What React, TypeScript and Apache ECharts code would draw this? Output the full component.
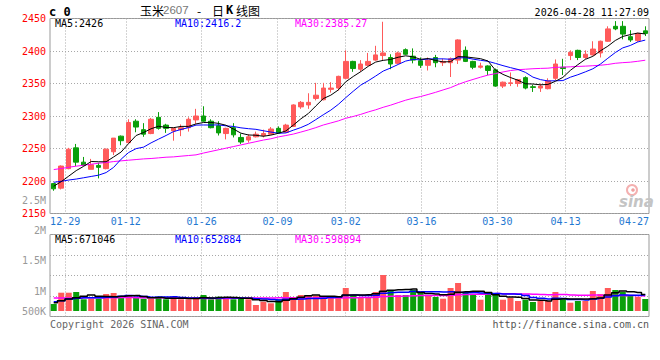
import React, { useEffect, useRef } from 'react';
import * as echarts from 'echarts';

// ---- data ----
const dates = [
  '12-25', '12-26', '12-29', '12-30', '12-31', '01-05', '01-06', '01-07', '01-08', '01-09',
  '01-12', '01-13', '01-14', '01-15', '01-16', '01-19', '01-20', '01-21', '01-22', '01-23',
  '01-26', '01-27', '01-28', '01-29', '01-30', '02-02', '02-03', '02-04', '02-05', '02-06',
  '02-09', '02-10', '02-11', '02-12', '02-13', '02-24', '02-25', '02-26', '02-27', '03-02',
  '03-03', '03-04', '03-05', '03-06', '03-09', '03-10', '03-11', '03-12', '03-13', '03-16',
  '03-17', '03-18', '03-19', '03-20', '03-23', '03-24', '03-25', '03-26', '03-27', '03-30',
  '03-31', '04-01', '04-02', '04-03', '04-07', '04-08', '04-09', '04-10', '04-13', '04-14',
  '04-15', '04-16', '04-17', '04-20', '04-21', '04-22', '04-23', '04-24', '04-27', '04-28',
];

const opens = [
  2196, 2189, 2219, 2251, 2229, 2218, 2224, 2219, 2245, 2269,
  2259, 2292, 2279, 2273, 2298, 2286, 2277, 2279, 2282, 2294,
  2300, 2292, 2285, 2273, 2282, 2267, 2263, 2268, 2270, 2272,
  2281, 2275, 2284, 2314, 2317, 2327, 2325, 2341, 2343, 2358,
  2384, 2372, 2378, 2386, 2393, 2390, 2381, 2402, 2392, 2385,
  2378, 2390, 2382, 2382, 2386, 2401, 2384, 2375, 2377, 2371,
  2346, 2350, 2350, 2359, 2345, 2343, 2342, 2358, 2375, 2393,
  2401, 2390, 2394, 2397, 2415, 2438, 2438, 2422, 2416, 2431,
];
const closes = [
  2188, 2223, 2249, 2229, 2224, 2225, 2221, 2249, 2266, 2262,
  2290, 2283, 2272, 2295, 2281, 2281, 2281, 2282, 2295, 2300,
  2292, 2282, 2274, 2281, 2271, 2260, 2268, 2272, 2273, 2280,
  2274, 2286, 2317, 2321, 2321, 2332, 2343, 2343, 2361, 2384,
  2373, 2380, 2384, 2394, 2397, 2380, 2397, 2395, 2386, 2378,
  2386, 2382, 2384, 2388, 2417, 2384, 2375, 2377, 2370, 2346,
  2352, 2351, 2356, 2343, 2344, 2346, 2354, 2380, 2373, 2398,
  2390, 2395, 2403, 2415, 2434, 2434, 2426, 2417, 2427, 2427,
];
const lows = [
  2185, 2187, 2218, 2223, 2223, 2218, 2204, 2218, 2240, 2255,
  2258, 2275, 2268, 2272, 2279, 2274, 2262, 2269, 2276, 2288,
  2291, 2281, 2270, 2264, 2267, 2257, 2259, 2267, 2267, 2272,
  2273, 2274, 2283, 2311, 2311, 2324, 2324, 2336, 2339, 2357,
  2368, 2368, 2377, 2385, 2386, 2372, 2380, 2394, 2381, 2374,
  2370, 2375, 2377, 2360, 2380, 2383, 2372, 2373, 2363, 2345,
  2343, 2346, 2345, 2341, 2337, 2337, 2341, 2355, 2363, 2386,
  2386, 2388, 2393, 2390, 2414, 2432, 2418, 2414, 2414, 2423,
];
const highs = [
  2197, 2224, 2251, 2257, 2237, 2234, 2228, 2250, 2266, 2270,
  2295, 2295, 2289, 2297, 2306, 2288, 2282, 2287, 2298, 2311,
  2315, 2295, 2292, 2282, 2289, 2273, 2272, 2276, 2279, 2283,
  2284, 2288, 2318, 2323, 2335, 2351, 2351, 2352, 2362, 2401,
  2385, 2386, 2397, 2408, 2445, 2395, 2399, 2404, 2404, 2390,
  2390, 2394, 2388, 2390, 2418, 2407, 2385, 2382, 2378, 2373,
  2353, 2367, 2357, 2361, 2348, 2350, 2358, 2387, 2388, 2401,
  2402, 2401, 2415, 2416, 2438, 2446, 2446, 2432, 2428, 2438,
];
const volumes = [
  280000, 732000, 732000, 760000, 468000, 492000, 492000, 680000, 720000, 548000,
  600000, 532000, 492000, 492000, 572000, 468000, 548000, 468000, 468000, 532000,
  640000, 468000, 572000, 532000, 468000, 532000, 468000, 240000, 372000, 308000,
  468000, 760000, 560000, 640000, 612000, 612000, 548000, 548000, 548000, 920000,
  640000, 560000, 560000, 760000, 1440000, 840000, 640000, 640000, 840000, 732000,
  640000, 560000, 492000, 920000, 1120000, 760000, 680000, 452000, 680000, 680000,
  452000, 532000, 400000, 452000, 360000, 400000, 400000, 760000, 520000, 332000,
  400000, 400000, 800000, 680000, 920000, 840000, 760000, 640000, 560000, 480000,
];

// moving-average values before enough candles are on screen
const ma5Lead = [2192, 2199, 2207.5, 2216];
const ma10Lead = [2198, 2199.5, 2201.5, 2203, 2205, 2207, 2209, 2213, 2221];
const ma30Lead = [
  2217.6, 2219.2, 2221.2, 2222.8, 2224.3, 2225.8, 2227.4, 2228.4, 2229.9, 2231,
  2232, 2233, 2234, 2234.6, 2235.6, 2236.6, 2237.1, 2238.2, 2239.2, 2240.2,
  2243, 2245.5, 2248, 2250.5, 2253, 2255.5, 2258, 2260.5, 2263,
];
const volMa5Lead = [332000, 412000, 480000, 532000];
const volMa10Lead = [372000, 412000, 480000, 508000, 532000, 532000, 532000, 548000, 560000];
const volMa30Lead = [
  520000, 520000, 524000, 524000, 528000, 528000, 532000, 532000, 532000, 536000,
  536000, 532000, 532000, 528000, 528000, 524000, 520000, 516000, 512000, 508000,
  504000, 500000, 500000, 504000, 508000, 512000, 516000, 520000, 520000,
];

const gridDates = ['12-29', '01-12', '01-26', '02-09', '03-02', '03-16', '03-30', '04-13'];
const labelDates = [...gridDates, '04-27'];
const volTickValues = [500000, 1000000, 1500000, 2000000, 2500000];
const volTickTexts = ['500K', '1M', '1.5M', '2M', '2.5M'];

const priceHeader = ['MA5:2426', 'MA10:2416.2', 'MA30:2385.27'];
const volHeader = ['MA5:671046', 'MA10:652884', 'MA30:598894'];
const titleParts = ['玉米', '2607', '-', '日', 'K', '线图'];
const stamp = '2026-04-28 11:27:09';
const codeText = 'c 0';
const copyrightText = 'Copyright 2026 SINA.COM';
const urlText = 'http://finance.sina.com.cn';

// ---- styles ----
const RED = '#ff5a5a';
const GREEN = '#0a9f0a';
const MONO = '"DejaVu Sans Mono", "Liberation Mono", monospace';
const CJK = '"Noto Sans CJK SC", "Noto Sans", sans-serif';
const DOT = { type: [1, 2], color: '#a8a8a8', width: 1 };
const MA_COLORS = ['#000000', '#0000ff', '#ff00ff'];

function movingAverage(values: number[], n: number, lead: number[], digits: number) {
  return values.map((_, i) => {
    if (i < n - 1) return lead[i];
    let s = 0;
    for (let k = i - n + 1; k <= i; k++) s += values[k];
    return Number((s / n).toFixed(digits));
  });
}

export default function App() {
  const ref = useRef<HTMLDivElement>(null);

  useEffect(() => {
    if (!ref.current) return;
    const chart = echarts.init(ref.current, null, { renderer: 'svg' });

    const candles = dates.map((_, i) => [opens[i], closes[i], lows[i], highs[i]]);
    const volBars = volumes.map((v, i) => ({
      value: v,
      itemStyle: { color: closes[i] >= opens[i] ? RED : GREEN },
    }));
    const ma5 = movingAverage(closes, 5, ma5Lead, 2);
    const ma10 = movingAverage(closes, 10, ma10Lead, 2);
    const ma30 = movingAverage(closes, 30, ma30Lead, 2);
    const vma5 = movingAverage(volumes, 5, volMa5Lead, 0);
    const vma10 = movingAverage(volumes, 10, volMa10Lead, 0);
    const vma30 = movingAverage(volumes, 30, volMa30Lead, 0);

    const maLine = (data: number[], color: string, xi: number, yi: number, width: number, step?: any) => ({
      type: 'line',
      data,
      xAxisIndex: xi,
      yAxisIndex: yi,
      symbol: 'none',
      showSymbol: false,
      step: step || false,
      silent: true,
      z: 5,
      lineStyle: { color, width },
    });

    const headerTexts = (texts: string[], y: number) =>
      texts.map((t, i) => ({
        type: 'text',
        x: [55, 175, 295][i],
        y,
        z: 20,
        style: { text: t, fill: MA_COLORS[i], font: `10px ${MONO}`, verticalAlign: 'middle' },
      }));

    const titleX = [140, 163, 197, 212, 226, 236];
    const titleGraphics = titleParts.map((t, i) => ({
      type: 'text',
      x: titleX[i],
      y: 10,
      style: {
        text: t,
        fill: i === 1 ? '#777' : '#000',
        font: i === 4 ? `bold 12px ${MONO}` : i === 1 ? `11.5px "Liberation Sans", sans-serif` : `12px ${CJK}`,
        verticalAlign: 'middle',
      },
    }));

    const option: any = {
      animation: false,
      backgroundColor: '#ffffff',
      grid: [
        { left: 50, top: 18.5, width: 599, height: 195, show: true, borderColor: '#999', borderWidth: 1, backgroundColor: 'transparent' },
        { left: 50, top: 234.5, width: 599, height: 76.5, show: false },
        { left: 50, top: 234.5, width: 599, height: 82, show: true, borderColor: '#999', borderWidth: 1, backgroundColor: 'transparent' },
        { left: 50, top: 169.8, width: 599, height: 181.8, show: false },
      ],
      xAxis: [
        { type: 'category', gridIndex: 0, data: dates, boundaryGap: true, show: false, position: 'bottom' },
        {
          type: 'category', gridIndex: 0, data: dates, boundaryGap: false, position: 'bottom',
          axisLine: { show: false }, axisTick: { show: false },
          axisLabel: {
            interval: (_i: number, v: string) => labelDates.includes(v),
            color: '#1f78d1', fontFamily: MONO, fontSize: 10, margin: 3,
            formatter: (v: string) => (v === labelDates[labelDates.length - 1] ? `{r|${v}}` : v),
            rich: { r: { color: '#1f78d1', fontFamily: MONO, fontSize: 10, padding: [0, 15, 0, 0] } },
          },
          splitLine: { show: true, interval: (_i: number, v: string) => gridDates.includes(v), lineStyle: DOT },
        },
        { type: 'category', gridIndex: 1, data: dates, boundaryGap: true, show: false },
        {
          type: 'category', gridIndex: 2, data: dates, boundaryGap: false,
          axisLine: { show: false }, axisTick: { show: false }, axisLabel: { show: false },
          splitLine: { show: true, interval: (_i: number, v: string) => gridDates.includes(v), lineStyle: DOT },
        },
        { type: 'category', gridIndex: 3, data: dates, show: false },
      ],
      yAxis: [
        {
          type: 'value', gridIndex: 0, min: 2150, max: 2450, interval: 50,
          axisLine: { show: false }, axisTick: { show: false },
          axisLabel: { color: '#ff0000', fontFamily: MONO, fontSize: 10, margin: 4, formatter: (v: number) => String(v) },
          splitLine: { show: true, lineStyle: DOT },
        },
        { type: 'value', gridIndex: 1, min: 0, max: 3060000, show: false, splitLine: { show: false } },
        {
          type: 'value', gridIndex: 2, min: 0, max: 4, interval: 1,
          axisLine: { show: false }, axisTick: { show: false }, axisLabel: { show: false },
          splitLine: { show: true, lineStyle: DOT },
        },
        {
          type: 'value', gridIndex: 3, min: 0, max: 3000000, interval: 500000,
          axisLine: { show: false }, axisTick: { show: false }, splitLine: { show: false },
          axisLabel: {
            color: '#999', fontFamily: MONO, fontSize: 10, margin: 4,
            formatter: (v: number) => {
              const k = volTickValues.indexOf(v);
              if (k < 0) return '';
              return k === 0 ? `{a|${volTickTexts[k]}}` : volTickTexts[k];
            },
            rich: { a: { color: '#999', fontFamily: MONO, fontSize: 10, padding: [0, 0, 20, 0] } },
          },
        },
      ],
      series: [
        {
          type: 'candlestick',
          xAxisIndex: 0,
          yAxisIndex: 0,
          data: candles,
          barWidth: 5,
          silent: true,
          itemStyle: { color: RED, color0: GREEN, borderColor: RED, borderColor0: GREEN, borderWidth: 1 },
        },
        maLine(ma30, MA_COLORS[2], 0, 0, 1),
        maLine(ma10, MA_COLORS[1], 0, 0, 1),
        maLine(ma5, MA_COLORS[0], 0, 0, 1),
        {
          type: 'bar',
          xAxisIndex: 2,
          yAxisIndex: 1,
          data: volBars,
          barWidth: 6,
          silent: true,
        },
        maLine(vma30, MA_COLORS[2], 2, 1, 1.5, 'middle'),
        maLine(vma10, MA_COLORS[1], 2, 1, 1.5, 'middle'),
        maLine(vma5, MA_COLORS[0], 2, 1, 1.5, 'middle'),
      ],
      graphic: [
        { type: 'text', x: 49, y: 12, style: { text: codeText, fill: '#000', font: `bold 12px ${MONO}`, verticalAlign: 'middle' } },
        ...titleGraphics,
        { type: 'text', x: 649, y: 12, style: { text: stamp, fill: '#000', font: `10px ${MONO}`, align: 'right', verticalAlign: 'middle' } },
        ...headerTexts(priceHeader, 23.5),
        ...headerTexts(volHeader, 239),
        { type: 'text', x: 50, y: 324, style: { text: copyrightText, fill: '#666', font: `10px ${MONO}`, verticalAlign: 'middle' } },
        { type: 'text', x: 649, y: 324, style: { text: urlText, fill: '#555', font: `10px ${MONO}`, align: 'right', verticalAlign: 'middle' } },
        { type: 'circle', shape: { cx: 632, cy: 190, r: 5 }, style: { fill: 'none', stroke: '#f4b0b0', lineWidth: 2 }, z: 1 },
        { type: 'circle', shape: { cx: 633, cy: 190, r: 1.8 }, style: { fill: '#f0a0a0' }, z: 1 },
        { type: 'text', x: 619, y: 202, z: 1, style: { text: 'sina', fill: '#c4c4c4', font: `italic bold 15px "DejaVu Sans", sans-serif`, verticalAlign: 'middle' } },
      ],
    };

    chart.setOption(option);
    return () => chart.dispose();
  }, []);

  return <div ref={ref} style={{ position: 'fixed', left: 0, top: 0, width: 660, height: 360, background: '#fff' }} />;
}
